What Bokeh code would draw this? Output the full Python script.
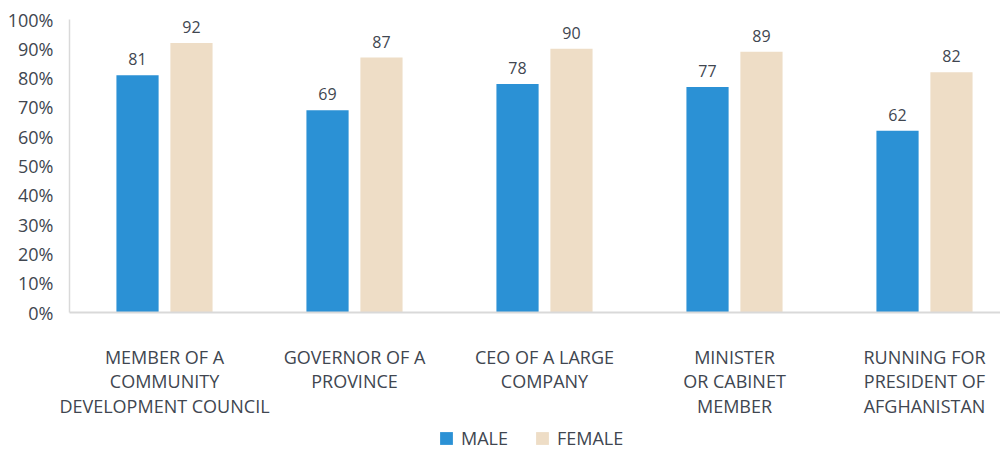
from bokeh.plotting import figure
from bokeh.models import ColumnDataSource, Range1d, FixedTicker, Legend, LegendItem
from bokeh.core.properties import value
from bokeh.embed import file_html
from bokeh.resources import INLINE

categories = [
    "MEMBER OF A\nCOMMUNITY\nDEVELOPMENT COUNCIL",
    "GOVERNOR OF A\nPROVINCE",
    "CEO OF A LARGE\nCOMPANY",
    "MINISTER\nOR CABINET\nMEMBER",
    "RUNNING FOR\nPRESIDENT OF\nAFGHANISTAN",
]
male = [81, 69, 78, 77, 62]
female = [92, 87, 90, 89, 82]
y_ticks = [0, 10, 20, 30, 40, 50, 60, 70, 80, 90, 100]

FONT = "Open Sans"
TXT = "#404650"
BLUE = "#2B91D5"
BEIGE = "#EEDDC6"

centers = [i + 0.5 for i in range(len(categories))]
off = 0.142
bw = 0.222
x_start = -69 / 190
x_end = x_start + 1000 / 190

src_m = ColumnDataSource(dict(x=[c - off for c in centers], top=male, lab=[str(v) for v in male]))
src_f = ColumnDataSource(dict(x=[c + off for c in centers], top=female, lab=[str(v) for v in female]))

p = figure(width=1000, height=450, output_backend="svg", toolbar_location=None,
           x_range=Range1d(x_start, x_end), y_range=Range1d(-47.1, 104.1),
           min_border_left=0, min_border_right=0, min_border_top=7, min_border_bottom=0)
p.outline_line_color = None
p.xgrid.visible = False
p.ygrid.visible = False

rm = p.vbar(x="x", top="top", width=bw, source=src_m, fill_color=BLUE, line_color=None)
rf = p.vbar(x="x", top="top", width=bw, source=src_f, fill_color=BEIGE, line_color=None)

for s in (src_m, src_f):
    p.text(x="x", y="top", text="lab", source=s, text_align="center", text_baseline="bottom",
           y_offset=-10, text_font=value(FONT), text_font_size="16px", text_color=TXT)

# y axis, drawn at x = 0 inside the frame
ya = p.yaxis[0]
ya.fixed_location = 0
ya.ticker = FixedTicker(ticks=y_ticks)
ya.bounds = (0, 100)
ya.major_label_overrides = {t: f"{t}%" for t in y_ticks}
ya.major_tick_line_color = None
ya.minor_tick_line_color = None
ya.axis_line_color = "#D9D9D9"
ya.axis_line_width = 1.5
ya.major_label_text_font = FONT
ya.major_label_text_font_size = "18px"
ya.major_label_text_color = TXT
ya.major_label_standoff = 10

# x axis, drawn at y = 0 inside the frame
xa = p.xaxis[0]
xa.fixed_location = 0
xa.bounds = (0, x_end)
xa.ticker = FixedTicker(ticks=centers)
xa.major_label_overrides = {c: lab for c, lab in zip(centers, categories)}
xa.major_tick_line_color = None
xa.minor_tick_line_color = None
xa.axis_line_color = "#D9D9D9"
xa.axis_line_width = 2
xa.major_label_text_font = FONT
xa.major_label_text_font_size = "18px"
xa.major_label_text_color = TXT
xa.major_label_standoff = 26
xa.major_label_text_line_height = 1.04

legend = Legend(items=[LegendItem(label="MALE", renderers=[rm]),
                       LegendItem(label="FEMALE", renderers=[rf])],
                orientation="horizontal", location=(438, 0),
                padding=0, margin=0, spacing=26, glyph_width=16, glyph_height=16,
                label_standoff=7, label_text_font=FONT, label_text_font_size="18px",
                label_text_color=TXT, border_line_color=None, background_fill_alpha=0)
p.add_layout(legend, "center")

open("out.html", "w").write(file_html(p, INLINE))
